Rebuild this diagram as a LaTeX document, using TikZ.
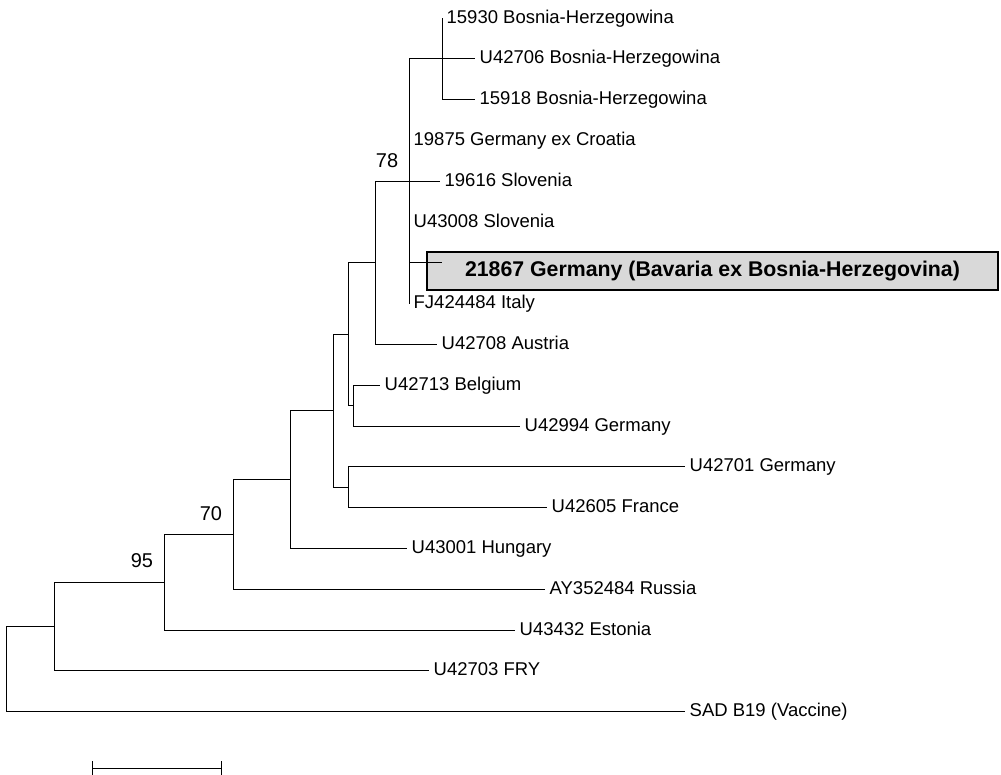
\documentclass[tikz,border=0pt]{standalone}
\usepackage{fontspec}
\setmainfont{Liberation Sans}
\usepackage{tikz}

\begin{document}
\begin{tikzpicture}[x=0.025cm, y=-0.025cm,
    branch/.style={line width=0.6pt},
    taxon/.style={anchor=west, inner xsep=0.11cm, inner ysep=0pt, text height=0.72em, text depth=0pt, font=\fontsize{13.15pt}{15pt}\selectfont},
    boot/.style={inner sep=0pt, font=\fontsize{14.2pt}{16pt}\selectfont},
    hilite/.style={draw, line width=1.4pt, fill=black!15, minimum width=14.25cm, minimum height=0.95cm, inner sep=0pt, font=\bfseries\fontsize{15.15pt}{18pt}\selectfont}]
                    \useasboundingbox (0,0) rectangle (1001,775);
                    % Inner nodes
                    \coordinate (root) at (6,669);
                    \coordinate (nA) at (54,626.5);
                    \coordinate (n95) at (164,582.2);
                    \coordinate (n70) at (233,534.4);
                    \coordinate (nC) at (290,479.5);
                    \coordinate (nD) at (333,410.7);
                    \coordinate (nG) at (348,334.2);
                    \coordinate (nH) at (353,405.6);
                    \coordinate (nF) at (348,487.2);
                    \coordinate (nI) at (375,262.8);
                    \coordinate (n78) at (409,181.2);
                    \coordinate (nK) at (442,58.8);
                    
                    % Taxa
                    \node[taxon] (t15930) at (442,18) {15930 Bosnia-Herzegowina};
                    \node[taxon] (t42706) at (475,58.8) {U42706 Bosnia-Herzegowina};
                    \node[taxon] (t15918) at (475,99.6) {15918 Bosnia-Herzegowina};
                    \node[taxon] (t19875) at (409,140.4) {19875 Germany ex Croatia};
                    \node[taxon] (t19616) at (440,181.2) {19616 Slovenia};
                    \node[taxon] (t43008) at (409,222) {U43008 Slovenia};
                    \node[hilite] (t21867) at (712.5,271) {21867 Germany (Bavaria ex Bosnia-Herzegovina)};
                    \coordinate (e21867) at (442,262.8);
                    \node[taxon] (t424484) at (409,303.6) {FJ424484 Italy};
                    \node[taxon] (t42708) at (437,344.4) {U42708 Austria};
                    \node[taxon] (t42713) at (380,385.2) {U42713 Belgium};
                    \node[taxon] (t42994) at (520,426) {U42994 Germany};
                    \node[taxon] (t42701) at (685,466.8) {U42701 Germany};
                    \node[taxon] (t42605) at (547,507.6) {U42605 France};
                    \node[taxon] (t43001) at (407,548.4) {U43001 Hungary};
                    \node[taxon] (t352484) at (545,589.2) {AY352484 Russia};
                    \node[taxon] (t43432) at (515,630) {U43432 Estonia};
                    \node[taxon] (t42703) at (429,670.8) {U42703 FRY};
                    \node[taxon] (tsad) at (685,711.6) {SAD B19 (Vaccine)};
                    
                    % Branches
                    \draw[branch] (root) |- (nA);
                    \draw[branch] (root) |- (tsad.west);
                    \draw[branch] (nA) |- (n95);
                    \draw[branch] (nA) |- (t42703.west);
                    \draw[branch] (n95) |- (n70);
                    \draw[branch] (n95) |- (t43432.west);
                    \draw[branch] (n70) |- (nC);
                    \draw[branch] (n70) |- (t352484.west);
                    \draw[branch] (nC) |- (nD);
                    \draw[branch] (nC) |- (t43001.west);
                    \draw[branch] (nD) |- (nG);
                    \draw[branch] (nD) |- (nF);
                    \draw[branch] (nF) |- (t42701.west);
                    \draw[branch] (nF) |- (t42605.west);
                    \draw[branch] (nG) |- (nI);
                    \draw[branch] (nG) |- (nH);
                    \draw[branch] (nH) |- (t42713.west);
                    \draw[branch] (nH) |- (t42994.west);
                    \draw[branch] (nI) |- (n78);
                    \draw[branch] (nI) |- (t42708.west);
                    \draw[branch] (n78) |- (nK);
                    \draw[branch] (n78) |- (t19875.west);
                    \draw[branch] (n78) |- (t19616.west);
                    \draw[branch] (n78) |- (t43008.west);
                    \draw[branch] (n78) |- (e21867);
                    \draw[branch] (n78) |- (t424484.west);
                    \draw[branch] (nK) |- (t15930.west);
                    \draw[branch] (nK) |- (t42706.west);
                    \draw[branch] (nK) |- (t15918.west);
                    
                    % Bootstrap values
                    \node[boot] (b78) at (387,161) {78};
                    \node[boot] (b70) at (211,514) {70};
                    \node[boot] (b95) at (142,561) {95};
                    
                    % Scale bar
                    \coordinate (sbL) at (92,768);
                    \coordinate (sbR) at (221,768);
                    \draw[branch] (sbL) -- (sbR);
                    \draw[branch] (sbL) ++(0,-7) -- ++(0,14);
                    \draw[branch] (sbR) ++(0,-7) -- ++(0,14);
                \end{tikzpicture}
\end{document}
